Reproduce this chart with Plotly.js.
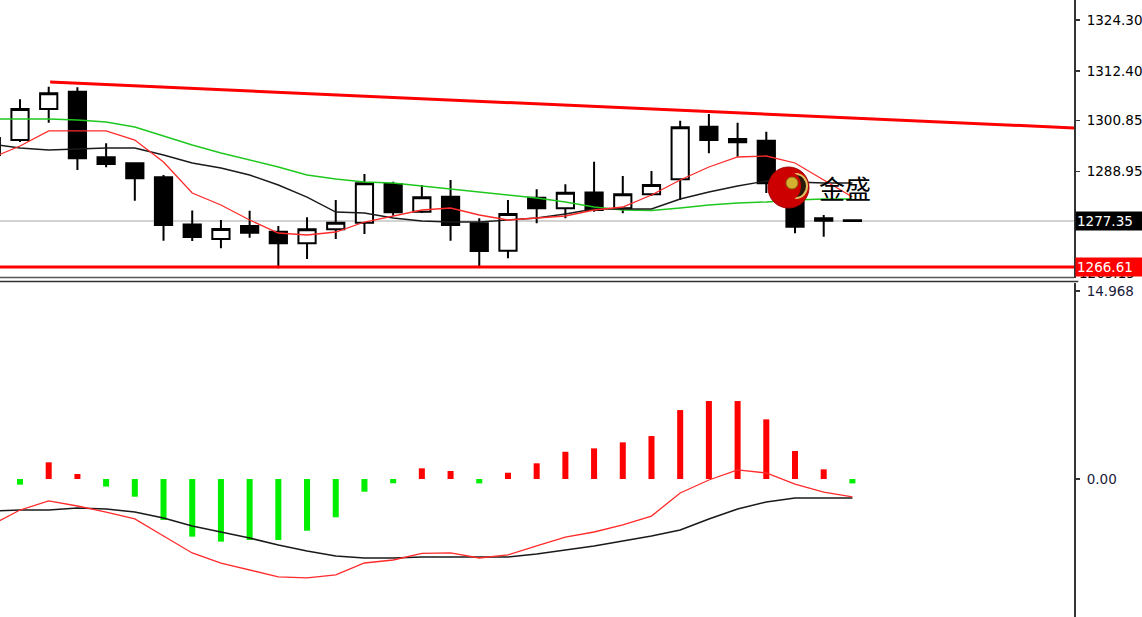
<!DOCTYPE html>
<html><head><meta charset="utf-8">
<script src="https://cdn.plot.ly/plotly-3.0.1.min.js"></script>
<style>html,body{margin:0;padding:0;background:#fff;overflow:hidden}#chart{width:1142px;height:617px}</style>
</head><body><div id="chart"></div>
<script>
// bar index (category positions)
const barIndex = [0,1,2,3,4,5,6,7,8,9,10,11,12,13,14,15,16,17,18,19,20,21,22,23,24,25,26,27,28,29,30];
// OHLC
const openP  = [1292.76,1296.26,1303.51,1307.55,1292.22,1290.82,1287.55,1276.52,1273.13,1276.17,1274.84,1272.13,1275.40,1276.94,1285.98,1279.51,1283.01,1276.80,1270.40,1282.78,1280.30,1284.00,1280.30,1283.58,1287.08,1299.37,1296.50,1296.10,1282.24,1277.97,1277.50];
const highP  = [1297.90,1305.77,1308.72,1308.58,1295.49,1290.90,1288.09,1279.79,1277.57,1279.74,1276.17,1278.20,1282.24,1288.32,1286.52,1285.75,1286.92,1277.97,1282.24,1284.74,1285.91,1291.19,1287.85,1289.02,1300.77,1302.34,1300.30,1298.20,1284.58,1278.74,1277.69];
const lowP   = [1292.06,1295.80,1300.30,1289.25,1289.88,1282.08,1272.73,1272.66,1270.96,1273.44,1266.30,1268.46,1273.13,1274.30,1278.58,1279.20,1272.73,1266.40,1268.62,1276.80,1277.97,1279.51,1279.14,1283.18,1282.24,1293.16,1292.36,1283.88,1274.46,1273.67,1277.10];
const closeP = [1296.73,1303.51,1307.17,1291.99,1290.66,1287.31,1276.40,1273.60,1275.47,1274.60,1272.13,1275.40,1276.94,1286.15,1279.37,1282.87,1276.40,1270.33,1278.97,1280.30,1283.95,1279.91,1283.58,1285.75,1299.23,1296.26,1295.73,1286.15,1276.01,1277.41,1277.35];
// moving averages
const maFast = [1292.06,1294.86,1298.37,1298.37,1298.37,1296.26,1291.12,1283.88,1281.08,1277.57,1274.53,1274.07,1274.77,1277.10,1278.51,1279.91,1280.37,1278.74,1277.57,1278.04,1278.51,1279.91,1280.61,1283.41,1286.92,1289.95,1292.29,1292.52,1290.89,1286.92,1282.94];
const maMid  = [1295.33,1294.39,1293.93,1294.16,1294.39,1294.39,1292.76,1290.89,1289.72,1288.09,1285.75,1282.94,1279.44,1279.21,1278.04,1277.34,1277.10,1277.10,1277.57,1278.04,1278.97,1280.14,1280.14,1280.14,1282.48,1284.11,1285.51,1286.68,1286.45,1286.22,1286.22];
const maSlow = [1301.17,1301.17,1301.17,1300.94,1300.47,1299.30,1297.20,1295.09,1293.23,1291.59,1289.95,1288.09,1287.15,1286.45,1286.22,1285.51,1284.81,1284.11,1283.41,1282.71,1281.78,1280.61,1279.91,1279.79,1280.37,1281.08,1281.54,1281.78,1282.24,1282.48,1282.48];
// trend line & levels
const trendX = [2.05, 38];
const trendY = [1309.81, 1298.99];
const currentPrice = 1277.35;
const supportLevel = 1266.61;
const hiddenLabel = 1265.15;
// MACD pane
const histVals = [0.30,-0.45,1.33,0.40,-0.60,-1.41,-3.26,-4.59,-4.99,-4.86,-4.86,-4.12,-3.05,-1.01,-0.34,0.85,0.64,-0.35,0.50,1.25,2.17,2.44,2.92,3.42,5.49,6.21,6.21,4.75,2.23,0.77,-0.35];
const macdLine = [-3.66,-2.47,-1.75,-2.15,-2.63,-3.18,-4.54,-5.89,-6.69,-7.25,-7.80,-7.88,-7.64,-6.69,-6.45,-5.93,-5.89,-6.29,-6.05,-5.33,-4.62,-4.22,-3.66,-2.95,-1.11,-0.08,0.72,0.48,-0.40,-1.04,-1.43];
const signalLine = [-2.55,-2.47,-2.47,-2.31,-2.39,-2.63,-3.11,-3.74,-4.22,-4.70,-5.25,-5.73,-6.13,-6.29,-6.29,-6.21,-6.21,-6.21,-6.21,-5.97,-5.65,-5.33,-4.94,-4.54,-4.06,-3.18,-2.39,-1.83,-1.51,-1.51,-1.51];
// axis ticks
const priceTicks = [1324.30,1312.40,1300.85,1288.95];
const priceTickText = ['1324.30','1312.40','1300.85','1288.95'];
const macdTicks = [14.968, 0];
const macdTickText = ['14.968','0.00'];

const W = 1142, H = 617, PW = 1074;
const px = v => v / PW;
const py = v => 1 - v / H;
const tickFont = {family:'DejaVu Sans, Tahoma, sans-serif', size:13.5, color:'#000'};

const traces = [
  {type:'scatter', mode:'lines', x:barIndex, y:maSlow, xaxis:'x', yaxis:'y', line:{color:'#1ec81e', width:1.4}, hoverinfo:'skip'},
  {type:'scatter', mode:'lines', x:barIndex, y:maMid, xaxis:'x', yaxis:'y', line:{color:'#1a1a1a', width:1.4}, hoverinfo:'skip'},
  {type:'scatter', mode:'lines', x:barIndex, y:maFast, xaxis:'x', yaxis:'y', line:{color:'#ff2a2a', width:1.3}, hoverinfo:'skip'},
  {type:'candlestick', x:barIndex, open:openP, high:highP, low:lowP, close:closeP, xaxis:'x', yaxis:'y',
    increasing:{line:{color:'#000', width:2}, fillcolor:'#ffffff'},
    decreasing:{line:{color:'#000', width:2}, fillcolor:'#000000'},
    whiskerwidth:0, hoverinfo:'skip'},
  {type:'scatter', mode:'lines', x:trendX, y:trendY, xaxis:'x', yaxis:'y', line:{color:'#ff0000', width:3}, hoverinfo:'skip'},
  {type:'bar', x:barIndex, y:histVals, xaxis:'x', yaxis:'y2', width:0.21,
    marker:{color:histVals.map(v => v >= 0 ? '#ff0000' : '#00ee00'), line:{width:0}}, hoverinfo:'skip'},
  {type:'scatter', mode:'lines', x:barIndex, y:signalLine, xaxis:'x', yaxis:'y2', line:{color:'#1a1a1a', width:1.6}, hoverinfo:'skip'},
  {type:'scatter', mode:'lines', x:barIndex, y:macdLine, xaxis:'x', yaxis:'y2', line:{color:'#ff2a2a', width:1.3}, hoverinfo:'skip'}
];

const layout = {
  width:W, height:H,
  margin:{l:0, r:W-PW, t:0, b:0, pad:0},
  paper_bgcolor:'#ffffff', plot_bgcolor:'#ffffff',
  showlegend:false,
  boxgap:0.4, boxgroupgap:0,
  xaxis:{range:[0.303, 37.72], showticklabels:false, showgrid:false, zeroline:false, showline:false, ticks:'', rangeslider:{visible:false}, fixedrange:true},
  yaxis:{domain:[py(278), 1], range:[1264.02, 1328.97], side:'right', showgrid:false, zeroline:false,
    showline:true, linecolor:'#333', linewidth:2, ticks:'outside', ticklen:4, tickwidth:1.5, tickcolor:'#333',
    tickvals:priceTicks, ticktext:priceTickText, tickfont:tickFont, ticklabelstandoff:4, fixedrange:true},
  yaxis2:{domain:[0, py(283)], range:[-10.99, 15.61], side:'right', anchor:'x', showgrid:false, zeroline:false,
    showline:true, linecolor:'#333', linewidth:2, ticks:'outside', ticklen:4, tickwidth:1.5, tickcolor:'#333',
    tickvals:macdTicks, ticktext:macdTickText, tickfont:{family:tickFont.family, size:13.5, color:'#1c1c3a'}, ticklabelstandoff:4, fixedrange:true},
  shapes:[
    {type:'line', xref:'paper', yref:'y', x0:0, x1:1, y0:currentPrice, y1:currentPrice, line:{color:'#c4c4c4', width:1.5}, layer:'below'},
    {type:'line', xref:'paper', yref:'y', x0:0, x1:1, y0:supportLevel, y1:supportLevel, line:{color:'#ff0000', width:3}},
    {type:'line', xref:'paper', yref:'paper', x0:0, x1:1, y0:py(277.5), y1:py(277.5), line:{color:'#555', width:1.5}},
    {type:'line', xref:'paper', yref:'paper', x0:0, x1:1.004, y0:py(281.5), y1:py(281.5), line:{color:'#333', width:1.5}},
    // logo: red sphere with gold crescent and ball
    {type:'circle', xref:'paper', yref:'paper', x0:px(768), x1:px(809), y0:py(208), y1:py(167), fillcolor:'#cc0000', line:{color:'#a00000', width:1}},
    {type:'circle', xref:'paper', yref:'paper', x0:px(784), x1:px(808), y0:py(199), y1:py(173), fillcolor:'#e2c060', line:{width:0}},
    {type:'circle', xref:'paper', yref:'paper', x0:px(786), x1:px(806), y0:py(197), y1:py(175), fillcolor:'#2a1a08', line:{width:0}},
    {type:'circle', xref:'paper', yref:'paper', x0:px(779), x1:px(801), y0:py(200), y1:py(172), fillcolor:'#cc0000', line:{width:0}},
    {type:'circle', xref:'paper', yref:'paper', x0:px(786), x1:px(798), y0:py(189), y1:py(177), fillcolor:'#d4b030', line:{color:'#8a6a10', width:1}}
  ],
  annotations:[
    {xref:'paper', yref:'y', x:1.003, y:hiddenLabel, xanchor:'left', yanchor:'middle', text:'1265.15', showarrow:false, font:tickFont},
    {xref:'paper', yref:'y', x:1.001, y:currentPrice, xanchor:'left', yanchor:'middle', text:'1277.35', showarrow:false,
      bgcolor:'#000', font:{family:tickFont.family, size:13.5, color:'#fff'}, width:70, align:'left', borderpad:1},
    {xref:'paper', yref:'y', x:1.001, y:supportLevel, xanchor:'left', yanchor:'middle', text:'1266.61', showarrow:false,
      bgcolor:'#ff0000', font:{family:tickFont.family, size:13.5, color:'#fff'}, width:70, align:'left', borderpad:1},
    {xref:'paper', yref:'paper', x:px(845), y:py(187), xanchor:'center', yanchor:'middle', text:'金盛', showarrow:false,
      font:{family:'Noto Sans CJK SC', size:26, color:'#000'}}
  ]
};

Plotly.newPlot('chart', traces, layout, {displayModeBar:false, staticPlot:true});
</script></body></html>
